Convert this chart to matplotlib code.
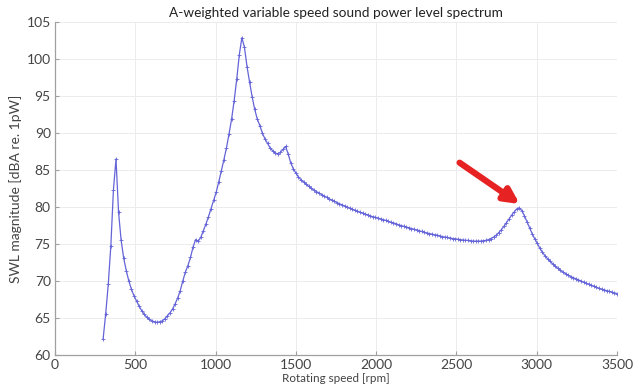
import numpy as np
import matplotlib
matplotlib.use("Agg")
import matplotlib.pyplot as plt

plt.rcParams['font.family'] = ['Lato', 'DejaVu Sans']

# sampling grid of rotating speed [rpm]
rpm_start, rpm_step = 300, 16

swl = [
    62.2, 65.6, 69.6, 74.8, 82.3, 86.5, 79.3, 75.5, 73.1, 71.4,
    70.0, 68.9, 68.0, 67.3, 66.6, 66.0, 65.5, 65.1, 64.8, 64.6,
    64.5, 64.4, 64.5, 64.6, 64.9, 65.3, 65.7, 66.2, 66.9, 67.7,
    68.7, 70.0, 71.2, 72.1, 73.2, 74.6, 75.6, 75.4, 75.9, 76.8,
    77.7, 78.7, 79.8, 80.9, 82.0, 83.4, 84.9, 86.4, 88.0, 89.9,
    91.9, 94.4, 97.3, 100.6, 102.9, 101.6, 99.0, 96.9, 94.9, 93.2,
    91.9, 91.0, 90.0, 89.2, 88.6, 88.0, 87.6, 87.3, 87.2, 87.4,
    87.8, 88.2, 87.2, 86.0, 85.2, 84.6, 84.1, 83.7, 83.4, 83.1,
    82.8, 82.55, 82.3, 82.1, 81.9, 81.7, 81.5, 81.3, 81.1, 80.95,
    80.8, 80.6, 80.45, 80.3, 80.15, 80.0, 79.85, 79.7, 79.55, 79.45,
    79.3, 79.2, 79.05, 78.95, 78.8, 78.7, 78.6, 78.5, 78.4, 78.3,
    78.2, 78.05, 77.95, 77.85, 77.75, 77.6, 77.5, 77.4, 77.3, 77.2,
    77.1, 77.0, 76.9, 76.8, 76.7, 76.6, 76.5, 76.4, 76.35, 76.25,
    76.2, 76.1, 76.0, 75.95, 75.9, 75.8, 75.75, 75.7, 75.65, 75.6,
    75.55, 75.5, 75.5, 75.45, 75.4, 75.4, 75.4, 75.4, 75.45, 75.5,
    75.6, 75.75, 75.95, 76.2, 76.55, 76.95, 77.4, 77.9, 78.4, 78.9,
    79.35, 79.75, 79.9, 79.5, 78.8, 78.0, 77.2, 76.4, 75.7, 75.1,
    74.4, 73.9, 73.4, 73.0, 72.65, 72.3, 72.0, 71.7, 71.45, 71.2,
    71.0, 70.8, 70.6, 70.45, 70.3, 70.15, 70.0, 69.85, 69.7, 69.55,
    69.4, 69.3, 69.15, 69.0, 68.9, 68.8, 68.7, 68.6, 68.5, 68.4,
    68.3,
]
rpm = rpm_start + rpm_step * np.arange(len(swl))

x_ticks = [0, 500, 1000, 1500, 2000, 2500, 3000, 3500]
y_ticks = [60, 65, 70, 75, 80, 85, 90, 95, 100, 105]

arrow_tail = (2520, 86.0)
arrow_tip = (2895, 80.4)

fig = plt.figure(figsize=(6.43, 3.87), dpi=100)
ax = fig.add_axes([0.0855, 0.0827, 0.874, 0.860])

line_col = '#6464d8'
ax.plot(rpm, swl, color=line_col, lw=0.9, marker='+', ms=2.5, mew=0.6)

ax.set_xlim(0, 3500)
ax.set_ylim(60, 105)
ax.set_xticks(x_ticks)
ax.set_yticks(y_ticks)
ax.grid(True, color='#ececec', lw=0.7)
ax.set_axisbelow(True)

for s in ['top', 'right']:
    ax.spines[s].set_visible(False)
for s in ['left', 'bottom']:
    ax.spines[s].set_color('#a0a0a0')
    ax.spines[s].set_linewidth(0.9)
ax.tick_params(direction='in', length=3, color='#a0a0a0', labelsize=10,
               labelcolor='#444444', width=0.8, pad=3)

ax.set_title('A-weighted variable speed sound power level spectrum',
             fontsize=9.8, color='#222222', pad=4)
ax.set_xlabel('Rotating speed [rpm]', fontsize=8.4, color='#444444', labelpad=1)
ax.set_ylabel('SWL magnitude [dBA re. 1pW]', fontsize=10, color='#444444', labelpad=3)

ax.annotate('', xy=arrow_tip, xytext=arrow_tail,
            arrowprops=dict(arrowstyle='-|>', color='#e62222', lw=4.5,
                            mutation_scale=22, shrinkA=0, shrinkB=0))

fig.savefig('out.png', dpi=100)
